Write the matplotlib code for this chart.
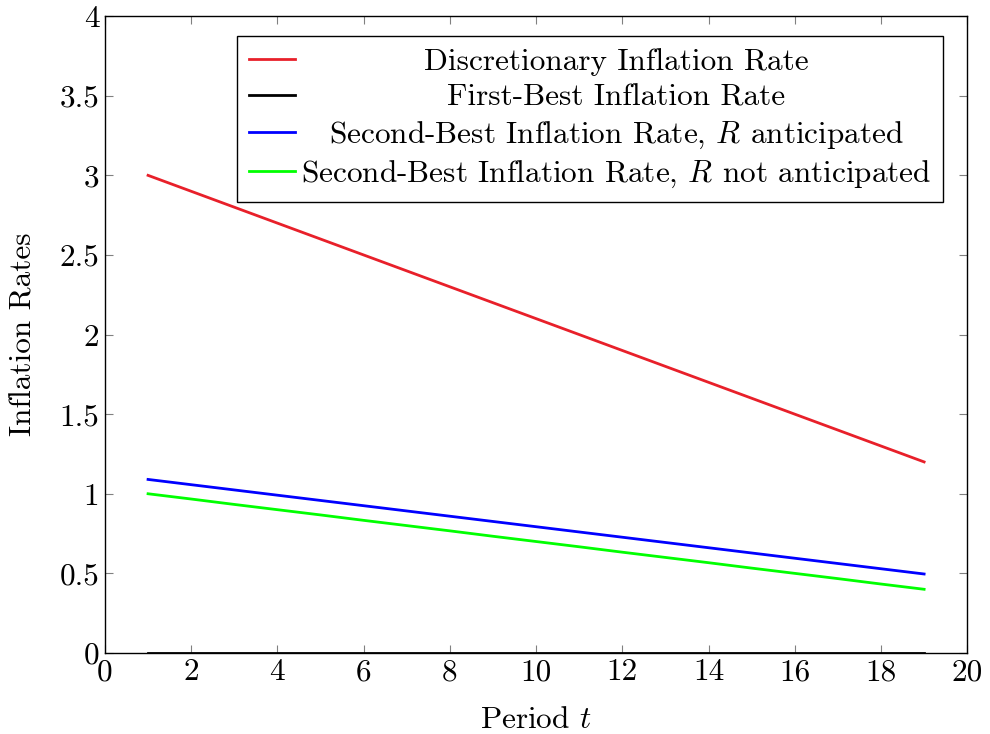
import matplotlib
matplotlib.use("Agg")
import matplotlib.pyplot as plt

# inflation paths over periods 1..19
periods = list(range(1, 20))
discretionary = [3.0, 2.9, 2.8, 2.7, 2.6, 2.5, 2.4, 2.3, 2.2, 2.1,
                 2.0, 1.9, 1.8, 1.7, 1.6, 1.5, 1.4, 1.3, 1.2]
first_best = [0.0] * 19
second_best_ant = [1.090, 1.057, 1.024, 0.991, 0.958, 0.925, 0.892, 0.859, 0.826, 0.793,
                   0.760, 0.727, 0.694, 0.661, 0.628, 0.595, 0.562, 0.529, 0.496]
second_best_not = [1.000, 0.967, 0.933, 0.900, 0.867, 0.833, 0.800, 0.767, 0.733, 0.700,
                   0.667, 0.633, 0.600, 0.567, 0.533, 0.500, 0.467, 0.433, 0.400]

labels = ["Discretionary Inflation Rate",
          "First-Best Inflation Rate",
          "Second-Best Inflation Rate, $R$ anticipated",
          "Second-Best Inflation Rate, $R$ not anticipated"]

xticks = [0, 2, 4, 6, 8, 10, 12, 14, 16, 18, 20]
yticks = [0, 0.5, 1, 1.5, 2, 2.5, 3, 3.5, 4]
ytick_labels = ["0", "0.5", "1", "1.5", "2", "2.5", "3", "3.5", "4"]

plt.rcParams['font.family'] = 'serif'
plt.rcParams['font.serif'] = ['cmr10', 'DejaVu Serif']
plt.rcParams['mathtext.fontset'] = 'cm'
plt.rcParams['axes.formatter.use_mathtext'] = True

fs = 22.5
fig = plt.figure(figsize=(9.9, 7.34), dpi=100)
ax = fig.add_axes([0.106, 0.1104, 0.871, 0.8676])

lw = 2.0
ax.plot(periods, discretionary, color='#e8202a', lw=lw, label=labels[0])
ax.plot(periods, first_best, color='black', lw=lw, label=labels[1])
ax.plot(periods, second_best_ant, color='#0000ff', lw=lw, label=labels[2])
ax.plot(periods, second_best_not, color='#00ff00', lw=lw, label=labels[3])

ax.set_xlim(0, 20)
ax.set_ylim(0, 4)
ax.set_xticks(xticks)
ax.set_xticklabels([str(v) for v in xticks])
ax.set_yticks(yticks)
ax.set_yticklabels(ytick_labels)
ax.tick_params(direction='in', length=6, width=0.8, color='#808080',
               top=True, right=True, labelsize=fs, pad=4)
for sp in ax.spines.values():
    sp.set_linewidth(1.0)
    sp.set_color('black')

ax.set_xlabel("Period $t$", fontsize=fs, labelpad=14)
ax.set_ylabel("Inflation Rates", fontsize=fs, labelpad=16)

leg = ax.legend(loc='upper right', bbox_to_anchor=(0.972, 0.9686), fontsize=fs,
                fancybox=False, edgecolor='black', framealpha=1.0,
                handlelength=1.45, handletextpad=0.2, labelspacing=0.25,
                borderpad=0.38, borderaxespad=0)
leg.get_frame().set_linewidth(1.0)

# center the entries like pgfplots does
fig.canvas.draw()
renderer = fig.canvas.get_renderer()
widths = [t.get_window_extent(renderer).width for t in leg.get_texts()]
maxw = max(widths)
for t, w in zip(leg.get_texts(), widths):
    t.set_position(((maxw - w) / 2, 0))

fig.savefig("out.png", dpi=100)
